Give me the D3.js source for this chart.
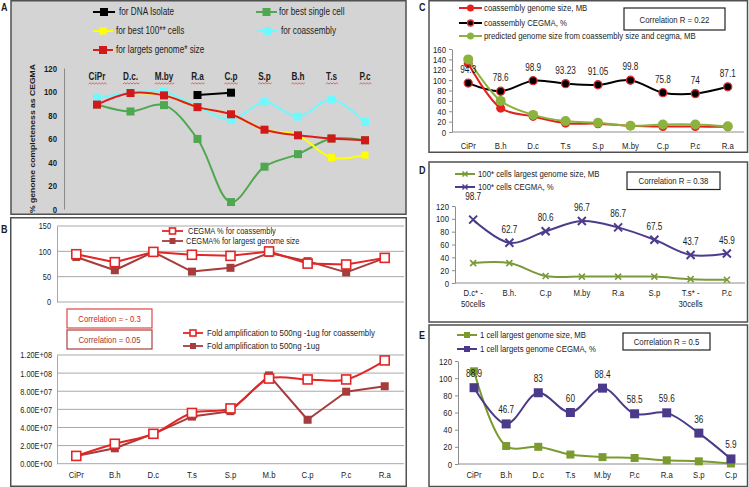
<!DOCTYPE html>
<html><head><meta charset="utf-8">
<script src="https://cdn.jsdelivr.net/npm/d3@7"></script>
<style>body{margin:0;background:#fff}svg text{font-family:"Liberation Sans",Arial,sans-serif}</style>
</head><body><svg id="c" width="749" height="487"></svg>
<script>
// ---------- DATA ----------
// Panel A
const catsA = ["CiPr","D.c.","M.by","R.a","C.p","S.p","B.h","T.s","P.c"];
const ticksA = [0,20,40,60,80,100,120];
const dnaIsolateA = [null,null,null,97,99,null,null,null,null];
const singleCellA = [88.9,83,88.4,59.6,5.9,36,46.7,60,58.5];
const best100A = [null,98.7,96.7,86.7,80.6,67.5,62.7,43.7,45.9];
const coassemblyA = [94.3,98.9,99.8,87.1,75.8,91.05,78.6,93.23,74];
const largestA = [88.9,98.7,96.7,86.7,80.6,67.5,62.7,60,58.5];
const namesA = ["for DNA Isolate","for best single cell","for best 100** cells","for coassembly","for largets genome* size"];
// Panel B
const catsB = ["CiPr","B.h","D.c","T.s","S.p","M.b","C.p","P.c","R.a"];
const ticksB1 = [0,50,100,150];
const cegmaCoasmB = [94.3,78.6,98.9,93.23,91.05,99.8,75.8,74,87.1];
const cegmaLargestB = [88.9,62.7,98.7,60,67.5,96.7,80.6,58.5,86.7];
const ticksB2 = [0,2e7,4e7,6e7,8e7,1e8,1.2e8];
const foldCoasmB = [8.6e6,2.2e7,3.3e7,5.6e7,6.1e7,9.4e7,9.3e7,9.3e7,1.14e8];
const foldLargestB = [8.6e6,1.7e7,3.3e7,5.2e7,5.8e7,9.75e7,4.85e7,7.95e7,8.55e7];
const namesB = ["CEGMA % for coassembly","CEGMA% for largest genome size","Fold amplification to 500ng -1ug for coassembly","Fold amplification to 500ng -1ug"];
const corrB = ["Correlation = - 0.3","Correlation = 0.05"];
// Panel C
const catsC = ["CiPr","B.h","D.c","T.s","S.p","M.by","C.p","P.c","R.a"];
const ticksC = [0,20,40,60,80,100,120,140,160];
const sizeC = [132,46,30,17,16,12,10.5,10.5,10];
const cegmaC = [94.3,78.6,98.9,93.23,91.05,99.8,75.8,74,87.1];
const predC = [140,60,33,21,18,12,14.5,14.5,11];
const namesC = ["coassembly genome size, MB","coassembly CEGMA, %","predicted genome size from coassembly size and cegma, MB"];
const corrC = "Correlation R = 0.22";
// Panel D
const catsD = ["D.c* -\n50cells","B.h.","C.p","M.by","R.a","S.p","T.s* -\n30cells","P.c"];
const ticksD = [0,20,40,60,80,100,120];
const sizeD = [31,31,11,10,10,10,6,5];
const cegmaD = [98.7,62.7,80.6,96.7,86.7,67.5,43.7,45.9];
const namesD = ["100* cells largest genome size, MB","100* cells CEGMA, %"];
const corrD = "Correlation R = 0.38";
// Panel E
const catsE = ["CiPr","B.h","D.c","T.s","M.by","P.c","R.a","S.p","C.p"];
const ticksE = [0,20,40,60,80,100,120];
const sizeE = [108,21,20,11,8,7,4.3,3.1,0.6];
const cegmaE = [88.9,46.7,83,60,88.4,58.5,59.6,36,5.9];
const namesE = ["1 cell largest genome size, MB","1 cell largets genome CEGMA, %"];
const corrE = "Correlation R = 0.5";

// ---------- HELPERS ----------
const svg = d3.select("#c");
const SX = 0.82;
const TXT = "#1c1c1c";
function txt(g, x, y, s, o = {}) {
  return g.append("text")
    .attr("transform", `translate(${x},${y}) scale(${o.sx ?? SX},1)`)
    .attr("text-anchor", o.anchor || "start")
    .attr("font-size", o.size || 10)
    .attr("font-weight", o.bold ? "bold" : "normal")
    .attr("fill", o.fill || TXT)
    .text(s);
}
function marker(g, type, x, y, s, fill, stroke, sw) {
  if (type === "square") {
    g.append("rect").attr("x", x - s/2).attr("y", y - s/2).attr("width", s).attr("height", s)
      .attr("fill", fill).attr("stroke", stroke || "none").attr("stroke-width", sw || 0);
  } else if (type === "circle") {
    g.append("circle").attr("cx", x).attr("cy", y).attr("r", s/2)
      .attr("fill", fill).attr("stroke", stroke || "none").attr("stroke-width", sw || 0);
  } else if (type === "x") {
    const h = s/2;
    g.append("path").attr("d", `M${x-h},${y-h}L${x+h},${y+h}M${x-h},${y+h}L${x+h},${y-h}`)
      .attr("stroke", stroke).attr("stroke-width", sw || 2).attr("fill", "none");
  }
}
function series(g, cats, vals, x, y, o) {
  const pts = cats.map((c, i) => ({c, v: vals[i]}));
  const line = d3.line().defined(d => d.v != null).x(d => x(d.c)).y(d => y(d.v))
    .curve(o.smooth ? d3.curveCatmullRom.alpha(0.5) : d3.curveLinear);
  g.append("path").datum(pts).attr("d", line).attr("fill", "none")
    .attr("stroke", o.color).attr("stroke-width", o.width || 2).attr("stroke-linejoin", "round");
  if (o.marker) pts.filter(d => d.v != null).forEach(d =>
    marker(g, o.marker, x(d.c), y(d.v), o.size, o.mfill ?? o.color, o.mstroke, o.msw));
}
function legendItem(g, x1, x2, y, o, label, tx, size, sx) {
  g.append("line").attr("x1", x1).attr("x2", x2).attr("y1", y).attr("y2", y)
    .attr("stroke", o.color).attr("stroke-width", o.width || 2);
  if (o.marker) marker(g, o.marker, (x1 + x2)/2, y, o.size, o.mfill ?? o.color, o.mstroke, o.msw);
  txt(g, tx, y + 3.3, label, {size: size || 9.5, sx: sx});
}
function leftAxis(g, y, ticks, x0, fmt, o = {}) {
  const ax = g.append("g").attr("transform", `translate(${x0},0)`)
    .call(d3.axisLeft(y).tickValues(ticks).tickSize(o.tick ?? 0).tickSizeOuter(0).tickPadding(o.pad ?? 5).tickFormat(fmt || d3.format("d")));
  ax.select(".domain").attr("stroke", o.line || "#8c8c8c").attr("stroke-width", 1);
  ax.selectAll(".tick line").attr("stroke", o.line || "#8c8c8c");
  ax.selectAll("text").attr("font-size", o.size || 9.5).attr("font-weight", o.bold ? "bold" : "normal")
    .attr("fill", TXT).attr("font-family", null)
    .each(function() { const t = d3.select(this); const xx = +t.attr("x"); t.attr("x", xx / SX).attr("transform", `scale(${SX},1)`); });
  return ax;
}
function frame(g, x, y, w, h, fill) {
  g.append("rect").attr("x", x).attr("y", y).attr("width", w).attr("height", h)
    .attr("fill", fill || "#fff").attr("stroke", "#505050").attr("stroke-width", 1.5);
}
function corrBox(g, x, y, w, h, label, stroke, fill, size) {
  g.append("rect").attr("x", x).attr("y", y).attr("width", w).attr("height", h)
    .attr("fill", "#fff").attr("stroke", stroke).attr("stroke-width", 1.2);
  txt(g, x + w/2, y + h/2 + 3.5, label, {anchor: "middle", fill: fill, size: size || 9.5});
}
function sciFmt(v) {
  if (v === 0) return "0.00E+00";
  const e = Math.floor(Math.log10(v));
  return (v / Math.pow(10, e)).toFixed(2) + "E+" + String(e).padStart(2, "0");
}

// ---------- PANEL A ----------
{
  const g = svg.append("g");
  frame(g, 11, 0.75, 395, 213.5, "#d4d4d4");
  txt(g, 1, 11, "A", {bold: true, size: 11});
  const x = d3.scalePoint().domain(catsA).range([97, 365]);
  const y = d3.scaleLinear().domain([0, 120]).range([209, 68]);
  leftAxis(g, y, ticksA, 64, null, {bold: true, size: 9.5, pad: 7, line: "#8a8a8a"});
  g.append("text").attr("transform", `translate(35,${(68+209)/2}) rotate(-90) scale(1,0.85)`)
    .attr("text-anchor", "middle").attr("font-size", 8.6).attr("font-weight", "bold").attr("fill", TXT)
    .text("% genome completeness as CEGMA");
  catsA.forEach(c => {
    const t = txt(g, x(c), 80, c, {anchor: "middle", bold: true, size: 10});
    const w = t.node().getComputedTextLength() * SX;
    let d = `M${x(c) - w/2},${84}`;
    for (let k = 0, xx = x(c) - w/2; xx < x(c) + w/2; k++, xx += 1.5) d += `L${xx + 1.5},${k % 2 ? 84 : 82.8}`;
    g.append("path").attr("d", d).attr("fill", "none").attr("stroke", "#d43a3a").attr("stroke-width", 0.7);
  });
  const stA = [
    {color: "#000", marker: "square", size: 8},
    {color: "#4fa84f", marker: "square", size: 8, smooth: true},
    {color: "#ffff00", marker: "square", size: 7, smooth: true},
    {color: "#6ff9ff", marker: "square", size: 8, smooth: true},
    {color: "#df1c1c", marker: "square", size: 8, mfill: "#d11919", smooth: true}
  ];
  series(g, catsA, singleCellA, x, y, stA[1]);
  series(g, catsA, coassemblyA, x, y, stA[3]);
  series(g, catsA, best100A, x, y, stA[2]);
  series(g, catsA, largestA, x, y, stA[4]);
  series(g, catsA, dnaIsolateA, x, y, stA[0]);
  legendItem(g, 93, 115, 12, stA[0], namesA[0], 119, 10);
  legendItem(g, 256, 277, 12, stA[1], namesA[1], 279, 10);
  legendItem(g, 93, 113, 31, stA[2], namesA[2], 116, 10);
  legendItem(g, 257, 277, 31, stA[3], namesA[3], 281, 10);
  legendItem(g, 93, 113, 50, stA[4], namesA[4], 116, 10);
}

// ---------- PANEL B ----------
{
  const g = svg.append("g");
  frame(g, 10.75, 217.75, 395.5, 268.5);
  txt(g, 1, 233, "B", {bold: true, size: 11});
  const x = d3.scalePoint().domain(catsB).range([57, 404]).padding(0.5);
  const grid = "#a8a8a8";
  // top
  const y1 = d3.scaleLinear().domain([0, 150]).range([302, 226]);
  ticksB1.forEach(t => g.append("line").attr("x1", 57).attr("x2", 404).attr("y1", y1(t)).attr("y2", y1(t)).attr("stroke", grid));
  leftAxis(g, y1, ticksB1, 57, null, {size: 9, pad: 6, line: grid});
  const sCo = {color: "#e42525", marker: "square", size: 9, mfill: "#fff", mstroke: "#e42525", msw: 1.6};
  const sLg = {color: "#a63c3c", marker: "square", size: 8};
  series(g, catsB, cegmaLargestB, x, y1, sLg);
  series(g, catsB, cegmaCoasmB, x, y1, sCo);
  legendItem(g, 162, 183, 231, {...sCo, size: 6, width: 1.8}, namesB[0], 188, 8.3, 0.9);
  legendItem(g, 162, 183, 241, {...sLg, size: 6, width: 1.8}, namesB[1], 186, 8.3, 0.9);
  corrBox(g, 67, 309, 85, 19, corrB[0], "#e04545", "#d42222");
  corrBox(g, 67, 330, 85, 19, corrB[1], "#a84040", "#a33434");
  // bottom
  const y2 = d3.scaleLinear().domain([0, 1.2e8]).range([463.7, 355]);
  ticksB2.forEach(t => g.append("line").attr("x1", 57).attr("x2", 404).attr("y1", y2(t)).attr("y2", y2(t)).attr("stroke", grid));
  leftAxis(g, y2, ticksB2, 57, sciFmt, {size: 9, pad: 5, line: grid});
  series(g, catsB, foldLargestB, x, y2, sLg);
  series(g, catsB, foldCoasmB, x, y2, {...sCo, smooth: true});
  legendItem(g, 183, 203, 333, {...sCo, size: 6, width: 1.8}, namesB[2], 207, 9.2, 0.86);
  legendItem(g, 183, 203, 346, {...sLg, size: 6, width: 1.8}, namesB[3], 207, 9.2, 0.86);
  catsB.forEach(c => txt(g, x(c), 478, c, {anchor: "middle", size: 9.5}));
}

// ---------- generic right panel ----------
function rightPanel(o) {
  const g = svg.append("g");
  frame(g, 429, o.top, 318.5, o.h);
  txt(g, 419, o.labelY, o.label, {bold: true, size: 11});
  const x = d3.scalePoint().domain(o.cats).range([o.x0, o.x1]).padding(0.5);
  const y = d3.scaleLinear().domain([0, o.ymax]).range([o.yb, o.yt]);
  leftAxis(g, y, o.ticks, o.x0, null, {tick: 3, pad: 3, size: 9.5, line: "#8c8c8c"});
  g.append("line").attr("x1", o.x0).attr("x2", o.x1).attr("y1", o.yb).attr("y2", o.yb).attr("stroke", "#8c8c8c");
  o.cats.forEach(c => {
    c.split("\n").forEach((ln, i) => txt(g, x(c), o.labY + i * 11, ln, {anchor: "middle", size: 9.5}));
  });
  return {g, x, y};
}

// ---------- PANEL C ----------
{
  const {g, x, y} = rightPanel({top: 0.75, h: 151.5, labelY: 11, label: "C", cats: catsC, x0: 452, x1: 744,
    ymax: 160, yb: 132, yt: 49, ticks: ticksC, labY: 149});
  const sSize = {color: "#e3211e", marker: "circle", size: 9, smooth: true, width: 2};
  const sCeg = {color: "#000", marker: "circle", size: 8, mfill: "#000", mstroke: "#e03030", msw: 1.3, smooth: true, width: 2};
  const sPred = {color: "#8cb33e", marker: "circle", size: 10, smooth: true, width: 2};
  series(g, catsC, cegmaC, x, y, sCeg);
  series(g, catsC, sizeC, x, y, sSize);
  series(g, catsC, predC, x, y, sPred);
  catsC.forEach((c, i) => txt(g, x(c), y(cegmaC[i]) - 10, String(cegmaC[i]), {anchor: "middle", size: 10}));
  legendItem(g, 459, 482, 8, {...sSize, size: 7}, namesC[0], 484, 9.5);
  legendItem(g, 459, 482, 23, {...sCeg, size: 6}, namesC[1], 484, 9.5);
  legendItem(g, 459, 482, 36, {...sPred, size: 7}, namesC[2], 484, 9.5);
  corrBox(g, 624, 8, 101, 22, corrC, "#222", TXT);
}

// ---------- PANEL D ----------
{
  const {g, x, y} = rightPanel({top: 162, h: 160, labelY: 174, label: "D", cats: catsD, x0: 455, x1: 745,
    ymax: 120, yb: 283, yt: 206, ticks: ticksD, labY: 296});
  const sSize = {color: "#7a9a3a", marker: "x", size: 6, mstroke: "#7a9a3a", msw: 1.6, smooth: true, width: 2};
  const sCeg = {color: "#4d3b8c", marker: "x", size: 8, mstroke: "#4d3b8c", msw: 2, smooth: true, width: 2};
  series(g, catsD, sizeD, x, y, sSize);
  series(g, catsD, cegmaD, x, y, sCeg);
  catsD.forEach((c, i) => txt(g, x(c), y(cegmaD[i]) - (i === 0 ? 20 : 10), String(cegmaD[i]), {anchor: "middle", size: 10}));
  legendItem(g, 455, 475, 174, {...sSize, size: 5}, namesD[0], 478, 9.5);
  legendItem(g, 455, 475, 187, {...sCeg, size: 5, msw: 1.4}, namesD[1], 478, 9.5);
  corrBox(g, 627, 172, 93, 17.5, corrD, "#222", TXT);
}

// ---------- PANEL E ----------
{
  const {g, x, y} = rightPanel({top: 325, h: 161.5, labelY: 339, label: "E", cats: catsE, x0: 458, x1: 747,
    ymax: 120, yb: 464, yt: 361, ticks: ticksE, labY: 478});
  const sSize = {color: "#7b9b30", marker: "square", size: 8, smooth: true, width: 2};
  const sCeg = {color: "#4b3a8a", marker: "square", size: 9, smooth: true, width: 2};
  series(g, catsE, sizeE, x, y, sSize);
  series(g, catsE, cegmaE, x, y, sCeg);
  catsE.forEach((c, i) => txt(g, x(c), y(cegmaE[i]) - 10.5, String(cegmaE[i]), {anchor: "middle", size: 10}));
  legendItem(g, 457, 477, 335, {...sSize, size: 6}, namesE[0], 480, 9.5);
  legendItem(g, 457, 477, 349, {...sCeg, size: 6}, namesE[1], 480, 9.5);
  corrBox(g, 623, 333, 87, 17, corrE, "#222", TXT);
}
</script></body></html>
